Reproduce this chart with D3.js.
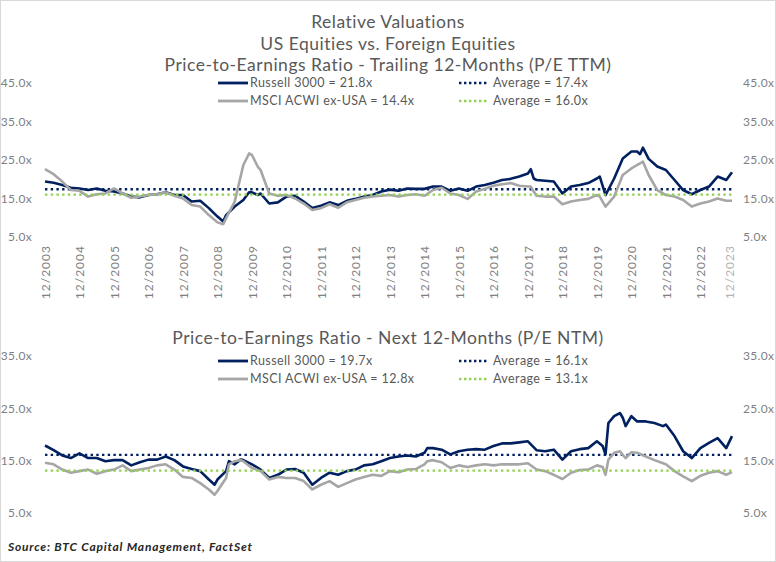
<!DOCTYPE html>
<html>
<head>
<meta charset="utf-8">
<script src="https://cdn.jsdelivr.net/npm/d3@7"></script>
<style>
body{margin:0;background:#fff}
svg{display:block;font-family:Lato,"Open Sans",sans-serif}
</style>
</head>
<body>
<svg id="chart" width="776" height="562"></svg>
<script>
// values; month index 0 = 12/2003, 239 = last point
var ttmMonths = [0,3,6,9,12,15,18,21,24,27,30,33,36,39,42,45,48,51,54,57,60,62,63,66,69,71,72,74,75,78,81,84,87,90,93,96,99,102,105,108,111,114,117,120,
  123,126,129,132,135,138,141,144,147,150,153,156,159,162,165,168,169,170,171,174,177,180,183,186,189,192,193,195,198,201,204,206,207,208,210,213,216,219,222,225,228,231,234,237,239]
var ttmRussell = [19.4,19.1,18.5,17.8,17.6,17.2,17.6,17.0,16.8,16.3,15.5,15.3,15.9,16.1,16.6,15.9,15.9,14.2,14.4,12.5,10.3,9.0,10.7,12.9,14.6,16.6,16.6,15.9,16.3,13.7,14.0,15.5,15.7,14.2,12.5,13.1,14.0,13.3,14.4,14.9,15.5,15.9,16.8,17.3,
  17.0,17.6,17.5,17.5,18.1,18.1,17.0,17.6,17.0,18.1,18.5,19.1,19.8,20.1,20.7,21.5,22.6,20.2,19.8,19.6,19.4,16.3,18.1,18.5,19.0,20.2,20.7,15.9,20.2,25.4,27.2,27.2,26.5,28.2,25.3,23.3,22.4,19.8,17.2,16.1,17.2,18.1,20.7,19.8,21.8]
var ttmMsci = [22.6,21.3,19.4,17.2,17.0,15.5,16.1,16.3,17.6,16.3,15.2,15.5,15.9,16.1,16.6,15.7,15.0,13.3,12.9,10.7,8.8,8.3,9.9,14.2,23.7,26.7,26.3,23.3,22.4,16.3,15.7,15.9,15.0,13.7,12.0,12.5,13.5,12.6,14.0,14.6,15.2,15.5,15.7,15.9,
  15.5,15.9,16.1,15.7,17.2,17.8,16.3,15.9,14.9,16.8,17.5,18.3,18.7,19.0,18.3,18.1,18.1,16.8,15.7,15.5,15.5,13.5,14.2,14.6,14.9,15.9,15.5,12.9,15.5,21.1,22.8,23.7,24.1,24.6,21.1,17.2,15.9,15.5,14.6,12.9,13.7,14.2,15.0,14.4,14.4]
var ttmAverages = [17.4, 16.0]

var ntmMonths = [0,3,6,9,12,15,18,21,24,27,30,33,36,39,42,45,48,51,54,57,59,60,63,64,66,68,69,72,75,78,81,84,87,90,93,96,99,102,105,108,111,114,117,120,
  123,126,129,132,133,135,138,141,144,147,150,153,156,159,162,165,168,171,174,177,180,183,186,189,192,194,195,196,198,200,201,202,204,206,209,212,215,216,219,222,225,228,231,234,237,239]
var ntmRussell = [17.9,17.0,16.0,15.5,16.4,15.5,15.5,14.9,15.1,15.1,14.1,14.7,15.2,15.2,15.8,15.1,13.9,13.4,13.0,11.4,10.4,11.4,13.0,14.9,14.3,15.2,15.1,14.3,13.3,11.7,12.3,13.3,13.4,12.7,10.4,11.7,12.7,12.3,13.0,13.3,14.1,14.3,14.9,15.5,
  15.8,16.0,15.8,16.5,17.4,17.4,17.1,16.2,16.8,17.1,17.2,17.1,17.8,18.3,18.3,18.5,18.7,17.0,16.8,17.1,15.2,16.8,17.2,17.4,18.7,17.8,16.2,22.2,23.5,24.1,23.2,21.6,23.5,22.5,22.5,22.2,21.6,21.9,19.7,16.8,15.5,17.4,18.4,19.3,17.4,19.7]
var ntmMsci = [14.6,14.3,13.3,12.7,13.0,13.3,12.5,13.0,13.3,14.1,13.0,13.3,13.6,14.1,14.3,13.3,11.9,11.7,10.7,9.5,8.5,9.2,11.7,14.3,14.9,15.1,14.9,13.6,13.0,11.4,11.9,11.7,11.7,11.1,9.5,10.4,11.1,10.0,10.7,11.4,11.9,12.3,12.1,13.0,
  12.8,13.3,13.4,14.3,14.9,15.1,14.7,13.6,14.1,13.8,14.1,14.3,14.1,14.3,14.3,14.3,14.5,13.3,13.0,12.3,11.5,12.7,13.2,13.3,14.1,13.8,12.3,15.2,16.5,16.8,16.1,15.5,16.6,16.5,15.8,15.1,14.5,14.3,13.0,12.0,11.1,12.1,12.7,13.0,12.3,12.8]
var ntmAverages = [16.1, 13.1]

var tickMonths = [0,12,24,36,48,60,72,84,96,108,120,132,144,156,168,180,192,204,216,228,238]
var tickLabels = ["12/2003","12/2004","12/2005","12/2006","12/2007","12/2008","12/2009","12/2010","12/2011","12/2012",
  "12/2013","12/2014","12/2015","12/2016","12/2017","12/2018","12/2019","12/2020","12/2021","12/2022","12/2023"]
var ttmTicks = [5,15,25,35,45]
var ntmTicks = [5,15,25,35]

var ttmLegend = ["Russell 3000 = 21.8x","Average = 17.4x","MSCI ACWI ex-USA = 14.4x","Average = 16.0x"]
var ntmLegend = ["Russell 3000 = 19.7x","Average = 16.1x","MSCI ACWI ex-USA = 12.8x","Average = 13.1x"]

var navy = "#002060", gray = "#a6a6a6", green = "#92d050"
var textGray = "#595959", tickGray = "#7f7f7f"

var svg = d3.select("#chart")
svg.append("rect").attr("x",0.5).attr("y",0.5).attr("width",775).attr("height",561)
  .attr("fill","#fff").attr("stroke","#d9d9d9")

var x = d3.scaleLinear().domain([0,239]).range([45,732])
var fmt = function(d){ return d3.format(".1f")(d) + "x" }

// titles
var titles = [["Relative Valuations",22],["US Equities vs. Foreign Equities",44],
  ["Price-to-Earnings Ratio - Trailing 12-Months (P/E TTM)",65],["Price-to-Earnings Ratio - Next 12-Months (P/E NTM)",338]]
svg.selectAll("text.title").data(titles).enter().append("text")
  .attr("class","title").attr("x",388).attr("y",function(d){return d[1]}).attr("dy","0.35em")
  .attr("text-anchor","middle").attr("font-size",17.5).attr("letter-spacing",0.5).attr("fill",textGray)
  .text(function(d){return d[0]})

function panel(cfg){
  var y = d3.scaleLinear().domain(cfg.domain).range(cfg.range)
  var g = svg.append("g")

  var left = g.append("g").attr("transform","translate(32,0)")
    .call(d3.axisLeft(y).tickValues(cfg.ticks).tickSize(0).tickPadding(0).tickFormat(fmt))
  var right = g.append("g").attr("transform","translate(743,0)")
    .call(d3.axisRight(y).tickValues(cfg.ticks).tickSize(0).tickPadding(0).tickFormat(fmt))
  ;[left,right].forEach(function(a){
    a.select(".domain").remove()
    a.selectAll("text").attr("font-size",12).attr("letter-spacing",0.3).attr("fill",tickGray).attr("font-family","Lato")
  })

  if(cfg.xLabels){
    var bx = g.append("g").attr("transform","translate(0,240)")
      .call(d3.axisBottom(x).tickValues(tickMonths).tickSize(0)
        .tickFormat(function(d,i){return tickLabels[i]}))
    bx.select(".domain").remove()
    bx.selectAll("text").attr("transform","rotate(-90)").attr("text-anchor","end")
      .attr("x",-5).attr("y",0).attr("dy","0.35em")
      .attr("font-size",12).attr("letter-spacing",1).attr("fill",tickGray).attr("font-family","Lato")
    bx.selectAll(".tick:last-of-type text").attr("fill","#b3b3b3")
  }

  var line = d3.line().x(function(d){return x(d[0])}).y(function(d){return y(d[1])})
  var russell = cfg.months.map(function(m,i){return [m,cfg.russell[i]]})
  var msci = cfg.months.map(function(m,i){return [m,cfg.msci[i]]})

  g.append("path").datum(russell).attr("d",line).attr("fill","none")
    .attr("stroke",navy).attr("stroke-width",2.6).attr("stroke-linejoin","round")
  g.append("line").attr("x1",x(0)).attr("x2",x(239))
    .attr("y1",y(cfg.avg[0])).attr("y2",y(cfg.avg[0]))
    .attr("stroke",navy).attr("stroke-width",2.4).attr("stroke-dasharray","2.4,3.3")
  g.append("path").datum(msci).attr("d",line).attr("fill","none")
    .attr("stroke",gray).attr("stroke-width",2.6).attr("stroke-linejoin","round")
  g.append("line").attr("x1",x(0)).attr("x2",x(239))
    .attr("y1",y(cfg.avg[1])).attr("y2",y(cfg.avg[1]))
    .attr("stroke",green).attr("stroke-width",2.4).attr("stroke-dasharray","2.4,3.3")

  // legend, filled row by row like the original
  var items = [
    {c:navy,dot:false,x:218,row:0},
    {c:navy,dot:true,x:459,row:0},
    {c:gray,dot:false,x:218,row:1},
    {c:green,dot:true,x:459,row:1}
  ]
  var lg = g.selectAll("g.leg").data(items).enter().append("g")
    .attr("transform",function(d){return "translate(" + d.x + "," + (cfg.legendY + d.row*18) + ")"})
  lg.append("line").attr("x1",0).attr("x2",30).attr("y1",0).attr("y2",0)
    .attr("stroke",function(d){return d.c})
    .attr("stroke-width",function(d){return d.dot ? 2.4 : 2.8})
    .attr("stroke-dasharray",function(d){return d.dot ? "2.4,2.6" : null})
  lg.append("text").attr("x",function(d){return d.dot ? 34 : 32}).attr("y",0).attr("dy","0.35em")
    .attr("font-size",12.5).attr("letter-spacing",0.4).attr("fill",textGray)
    .text(function(d,i){return cfg.legend[i]})
}

panel({domain:[5,45],range:[237,83],ticks:ttmTicks,xLabels:true,
  months:ttmMonths,russell:ttmRussell,msci:ttmMsci,avg:ttmAverages,legend:ttmLegend,legendY:83})
panel({domain:[5,35],range:[513,356],ticks:ntmTicks,xLabels:false,
  months:ntmMonths,russell:ntmRussell,msci:ntmMsci,avg:ntmAverages,legend:ntmLegend,legendY:361})

svg.append("text").attr("x",8).attr("y",547).attr("dy","0.35em")
  .attr("font-size",12).attr("font-weight","bold").attr("font-style","italic").attr("letter-spacing",0.8)
  .attr("fill","#262626").text("Source: BTC Capital Management, FactSet")
</script>
</body>
</html>
